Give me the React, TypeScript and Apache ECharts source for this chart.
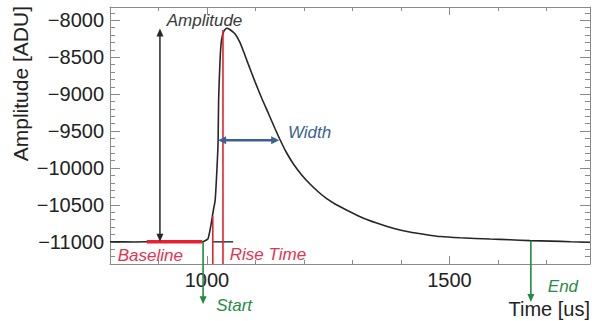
import React, { useEffect, useRef } from "react";
import * as echarts from "echarts";

// ---- data ----
const timeUs = [800, 850, 900, 950, 990, 996, 1002, 1006, 1010, 1013, 1017, 1021, 1023, 1024, 1027, 1030, 1035, 1041, 1047, 1058, 1068, 1077, 1085, 1099, 1113, 1127, 1140, 1151, 1163, 1178, 1195, 1212, 1230, 1247, 1264, 1281, 1316, 1350, 1384, 1418, 1453, 1481, 1522, 1584, 1625, 1666, 1710, 1750, 1790];
const amplitudeAdu = [-10998, -11002, -10997, -11001, -11000, -10986, -10959, -10850, -10702, -10580, -10431, -9957, -9621, -9079, -8538, -8267, -8145, -8108, -8125, -8185, -8300, -8450, -8590, -8830, -9056, -9265, -9462, -9621, -9780, -9942, -10090, -10213, -10325, -10416, -10487, -10546, -10659, -10745, -10816, -10867, -10903, -10928, -10945, -10962, -10972, -10983, -10990, -10998, -11005];

const xTickLabels = [1000, 1500];
const yTickLabels = [-11000, -10500, -10000, -9500, -9000, -8500, -8000];

// annotation values (data coordinates)
const amplitudeArrow = [903, -11000, -8110]; // time, from, to
const baselineSegment = [876, 990, -11000]; // from time, to time, level
const riseTimeLines = [[1012, -10650], [1033, -8130]]; // time, top level
const riseTimeFloor = [1012, 1054, -11000];
const widthArrow = [1023, 1149, -9625]; // from time, to time, level
const startArrow = [992, -11000, -11845];
const endArrow = [1668, -10985, -11815];
const annotationTexts = [
  { text: "Amplitude", t: 917, v: -8000, color: "#3a3a3a" },
  { text: "Width", t: 1167, v: -9513, color: "#3d5f92" },
  { text: "Baseline", t: 816, v: -11185, color: "#e23452" },
  { text: "Rise Time", t: 1047, v: -11175, color: "#e23452" },
  { text: "Start", t: 1019, v: -11860, color: "#2a8a45" },
  { text: "End", t: 1703, v: -11610, color: "#2a8a45" },
];

const X_MIN = 800;
const X_MAX = 1790;
const Y_MIN = -11300;
const Y_MAX = -7820;

const FONT = '"Liberation Sans", Arial, Helvetica, sans-serif';
const FRAME = "#8a8a8a";
const RED = "#e8202f";
const GREEN = "#238a3e";
const BLUE = "#3d5f92";
const BLACK = "#262626";

function xAxis(position: string, major: boolean, showLine: boolean, showLabel: boolean) {
  const a: any = {
    type: "value",
    gridIndex: 0,
    min: X_MIN,
    max: X_MAX,
    position,
    splitLine: { show: false },
    axisLine: { show: showLine, onZero: false, lineStyle: { color: FRAME, width: 1 } },
    axisTick: { show: true, inside: true, length: major ? 8 : 4, lineStyle: { color: FRAME, width: 1 } },
    axisLabel: { show: false },
  };
  if (major) {
    a.axisTick.customValues = xTickLabels;
    if (showLabel) {
      a.axisLabel = {
        show: true,
        customValues: xTickLabels,
        fontSize: 20,
        fontFamily: FONT,
        color: "#222",
        margin: 6,
        formatter: (v: number) => String(v),
      };
    }
  } else {
    a.interval = 100;
  }
  return a;
}

function yAxis(position: string, major: boolean, showLine: boolean, showLabel: boolean) {
  const a: any = {
    type: "value",
    gridIndex: 0,
    min: Y_MIN,
    max: Y_MAX,
    position,
    splitLine: { show: false },
    axisLine: { show: showLine, onZero: false, lineStyle: { color: FRAME, width: 1 } },
    axisTick: { show: true, inside: true, length: major ? 10 : 5, lineStyle: { color: FRAME, width: 1 } },
    axisLabel: { show: false },
  };
  if (major) {
    a.axisTick.customValues = yTickLabels;
    if (showLabel) {
      a.axisLabel = {
        show: true,
        customValues: yTickLabels,
        fontSize: 20,
        fontFamily: FONT,
        color: "#222",
        margin: 6,
        formatter: (v: number) => String(v).replace("-", "\u2212"),
      };
    }
  } else {
    a.interval = 100;
  }
  return a;
}

export default function App() {
  const ref = useRef<HTMLDivElement>(null);
  useEffect(() => {
    document.body.style.margin = "0";
    const chart = echarts.init(ref.current!, null, { renderer: "svg" });
    chart.setOption({
      animation: false,
      backgroundColor: "#ffffff",
      grid: { left: 110, right: 2, top: 7, bottom: 57, containLabel: false },
      xAxis: [
        xAxis("bottom", false, true, false),
        xAxis("bottom", true, false, true),
        xAxis("top", false, true, false),
        xAxis("top", true, false, false),
      ],
      yAxis: [
        yAxis("left", false, true, false),
        yAxis("left", true, false, true),
        yAxis("right", false, true, false),
        yAxis("right", true, false, false),
      ],
      series: [
        {
          type: "line",
          xAxisIndex: 0,
          yAxisIndex: 0,
          data: timeUs.map((t, i) => [t, amplitudeAdu[i]]),
          showSymbol: false,
          symbol: "none",
          smooth: 0.2,
          lineStyle: { color: BLACK, width: 1.6 },
          z: 5,
        },
      ],
    });

    const P = (t: number, v: number) =>
      chart.convertToPixel({ xAxisIndex: 0, yAxisIndex: 0 }, [t, v]) as number[];

    const els: any[] = [];
    const line = (a: number[], b: number[], color: string, width: number, z = 10) =>
      els.push({
        type: "line",
        silent: true,
        z,
        shape: { x1: a[0], y1: a[1], x2: b[0], y2: b[1] },
        style: { stroke: color, lineWidth: width },
      });
    const head = (tip: number[], from: number[], color: string, len: number, hw: number) => {
      const dx = tip[0] - from[0];
      const dy = tip[1] - from[1];
      const d = Math.hypot(dx, dy) || 1;
      const ux = dx / d;
      const uy = dy / d;
      const bx = tip[0] - ux * len;
      const by = tip[1] - uy * len;
      els.push({
        type: "polygon",
        silent: true,
        z: 21,
        shape: { points: [[tip[0], tip[1]], [bx - uy * hw, by + ux * hw], [bx + uy * hw, by - ux * hw]] },
        style: { fill: color },
      });
      return [bx + ux * 1, by + uy * 1];
    };
    const arrow = (a: number[], b: number[], color: string, width: number, both: boolean, len = 8, hw = 3.5) => {
      const endB = head(b, a, color, len, hw);
      const endA = both ? head(a, b, color, len, hw) : a;
      line(endA, endB, color, width, 20);
    };

    // amplitude arrow
    arrow(P(amplitudeArrow[0], amplitudeArrow[1]), P(amplitudeArrow[0], amplitudeArrow[2]), BLACK, 1.5, true);
    // baseline
    line(P(baselineSegment[0], baselineSegment[2]), P(baselineSegment[1], baselineSegment[2]), RED, 3.5, 15);
    // rise time
    riseTimeLines.forEach(([t, top]) => line(P(t, top), P(t, Y_MIN), RED, 1.6, 12));
    line(P(riseTimeFloor[0], riseTimeFloor[2]), P(riseTimeFloor[1], riseTimeFloor[2]), BLACK, 1.4, 11);
    // width
    arrow(P(widthArrow[0], widthArrow[2]), P(widthArrow[1], widthArrow[2]), BLUE, 2.5, true, 8, 4);
    // start / end
    arrow(P(startArrow[0], startArrow[1]), P(startArrow[0], startArrow[2]), GREEN, 1.6, false);
    arrow(P(endArrow[0], endArrow[1]), P(endArrow[0], endArrow[2]), GREEN, 1.6, false);

    annotationTexts.forEach((a) => {
      const p = P(a.t, a.v);
      els.push({
        type: "text",
        silent: true,
        z: 30,
        x: p[0],
        y: p[1],
        style: {
          text: a.text,
          font: `italic 17px ${FONT}`,
          fill: a.color,
          align: "left",
          verticalAlign: "middle",
        },
      });
    });

    // axis titles
    els.push({
      type: "text",
      silent: true,
      z: 30,
      x: 20,
      y: 6,
      rotation: Math.PI / 2,
      style: {
        text: "Amplitude [ADU]",
        font: `21px ${FONT}`,
        fill: "#222",
        align: "right",
        verticalAlign: "middle",
      },
    });
    els.push({
      type: "text",
      silent: true,
      z: 30,
      x: 590,
      y: 309,
      style: {
        text: "Time [us]",
        font: `20px ${FONT}`,
        fill: "#222",
        align: "right",
        verticalAlign: "middle",
      },
    });

    chart.setOption({ graphic: els });
    return () => chart.dispose();
  }, []);
  return <div ref={ref} style={{ width: 592, height: 321, position: "absolute", left: 0, top: 0 }} />;
}
